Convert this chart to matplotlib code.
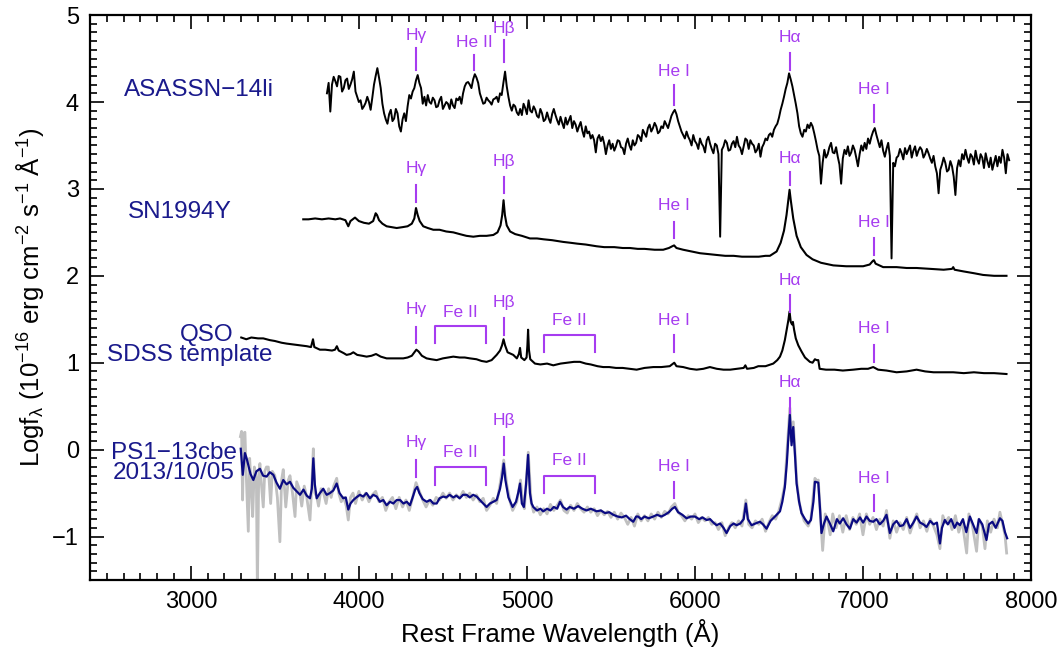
import numpy as np
import matplotlib
matplotlib.use('Agg')
import matplotlib.pyplot as plt
from matplotlib.ticker import MultipleLocator

plt.rcParams['font.family'] = ['Liberation Sans', 'DejaVu Sans']
plt.rcParams['mathtext.fontset'] = 'custom'
plt.rcParams['mathtext.rm'] = 'Liberation Sans'
plt.rcParams['mathtext.it'] = 'Liberation Sans:italic'
plt.rcParams['mathtext.bf'] = 'Liberation Sans:bold'
plt.rcParams['mathtext.default'] = 'regular'

# ASASSN-14li: log flux on a 10 A grid starting at 3810 A (one row = 200 A)
asassn_start = 3810
asassn_step = 10
asassn_flux = [
    4.10, 4.22, 3.89, 4.20, 4.29, 4.24, 4.18, 4.30, 4.29, 4.12, 4.16, 4.25, 4.27, 4.15, 4.20, 4.26, 4.35, 4.12, 4.06, 4.00,
    4.02, 3.92, 3.95, 3.99, 4.06, 4.00, 3.91, 4.05, 4.20, 4.30, 4.39, 4.28, 4.16, 3.98, 3.87, 3.80, 3.75, 3.86, 3.91, 3.78,
    3.81, 3.92, 3.87, 3.72, 3.66, 3.80, 3.87, 3.78, 3.95, 4.08, 4.04, 4.12, 4.16, 4.25, 4.31, 4.22, 4.16, 3.98, 4.06, 3.96,
    4.08, 4.00, 3.98, 4.05, 4.02, 3.94, 3.95, 4.02, 4.06, 3.92, 3.96, 4.00, 3.98, 3.92, 4.03, 3.96, 3.93, 4.04, 4.02, 4.06,
    3.98, 4.10, 4.18, 4.22, 4.23, 4.20, 4.16, 4.26, 4.32, 4.28, 4.22, 4.10, 4.04, 3.98, 3.99, 4.05, 4.02, 4.00, 3.97, 4.03,
    4.04, 4.06, 4.00, 4.10, 4.08, 4.22, 4.35, 4.18, 4.06, 3.96, 3.90, 3.97, 3.95, 3.88, 3.85, 3.92, 3.85, 3.98, 3.93, 3.86,
    4.02, 3.90, 3.88, 3.95, 3.91, 3.84, 3.82, 3.92, 3.87, 3.78, 3.80, 3.88, 3.81, 3.76, 3.86, 3.92, 3.85, 3.79, 3.74, 3.83,
    3.76, 3.70, 3.82, 3.74, 3.79, 3.84, 3.70, 3.78, 3.74, 3.66, 3.72, 3.77, 3.67, 3.60, 3.72, 3.64, 3.66, 3.58, 3.62, 3.56,
    3.42, 3.58, 3.62, 3.55, 3.60, 3.52, 3.40, 3.50, 3.56, 3.46, 3.52, 3.44, 3.49, 3.56, 3.55, 3.48, 3.47, 3.40, 3.52, 3.58,
    3.50, 3.45, 3.56, 3.50, 3.53, 3.62, 3.60, 3.55, 3.68, 3.64, 3.60, 3.70, 3.74, 3.66, 3.70, 3.76, 3.72, 3.64, 3.66, 3.72,
    3.70, 3.78, 3.74, 3.70, 3.77, 3.84, 3.88, 3.91, 3.86, 3.78, 3.72, 3.66, 3.62, 3.58, 3.66, 3.60, 3.56, 3.50, 3.62, 3.55,
    3.52, 3.46, 3.58, 3.52, 3.49, 3.42, 3.56, 3.60, 3.52, 3.46, 3.41, 3.52, 3.50, 3.40, 2.45, 3.45, 3.49, 3.56, 3.53, 3.44,
    3.45, 3.52, 3.55, 3.48, 3.60, 3.50, 3.47, 3.40, 3.49, 3.58, 3.56, 3.46, 3.56, 3.52, 3.50, 3.42, 3.45, 3.52, 3.37, 3.48,
    3.52, 3.58, 3.56, 3.62, 3.64, 3.60, 3.68, 3.72, 3.75, 3.82, 3.91, 3.98, 4.06, 4.15, 4.22, 4.33, 4.26, 4.18, 4.08, 3.98,
    3.87, 3.72, 3.64, 3.60, 3.68, 3.66, 3.74, 3.70, 3.76, 3.72, 3.64, 3.55, 3.45, 3.38, 3.06, 3.30, 3.45, 3.36, 3.40, 3.48,
    3.53, 3.42, 3.41, 3.48, 3.37, 3.28, 3.06, 3.35, 3.45, 3.40, 3.49, 3.38, 3.42, 3.50, 3.45, 3.36, 3.26, 3.40, 3.50, 3.44,
    3.53, 3.46, 3.58, 3.52, 3.60, 3.66, 3.70, 3.62, 3.55, 3.48, 3.56, 3.44, 3.37, 3.46, 3.53, 3.38, 2.20, 3.30, 3.26, 3.36,
    3.38, 3.46, 3.41, 3.34, 3.47, 3.40, 3.45, 3.50, 3.36, 3.44, 3.49, 3.38, 3.44, 3.48, 3.45, 3.36, 3.40, 3.46, 3.41, 3.35,
    3.30, 3.38, 3.26, 3.18, 2.95, 3.22, 3.28, 3.36, 3.30, 3.20, 3.22, 3.32, 3.26, 3.14, 2.93, 3.24, 3.33, 3.26, 3.40, 3.34,
    3.45, 3.36, 3.30, 3.40, 3.37, 3.28, 3.44, 3.34, 3.29, 3.40, 3.36, 3.24, 3.41, 3.32, 3.25, 3.36, 3.22, 3.30, 3.38, 3.26,
    3.37, 3.30, 3.45, 3.36, 3.18, 3.40, 3.33,
]

# SN1994Y
sn_wave = [3669, 3700, 3740, 3780, 3820, 3860, 3888, 3920, 3937, 3950,
           3970, 3977, 4000, 4030, 4060, 4085, 4100, 4108, 4120, 4140,
           4165, 4195, 4225, 4260, 4290, 4315, 4330, 4340, 4350, 4362,
           4383, 4410, 4443, 4480, 4520, 4562, 4600, 4640, 4681, 4720,
           4760, 4800, 4825, 4843, 4853, 4861, 4869, 4880, 4900, 4930,
           4970, 5018, 5060, 5100, 5150, 5216, 5260, 5300, 5350, 5415,
           5460, 5520, 5570, 5613, 5660, 5700, 5760, 5811, 5845, 5865,
           5876, 5890, 5930, 5980, 6030, 6080, 6129, 6180, 6230, 6280,
           6327, 6380, 6420, 6446, 6486, 6510, 6530, 6545, 6555, 6563,
           6571, 6585, 6605, 6630, 6664, 6700, 6750, 6823, 6900, 6960,
           7001, 7040, 7058, 7065, 7075, 7120, 7200, 7260, 7319, 7400,
           7480, 7530, 7537, 7545, 7600, 7660, 7715, 7780, 7854]
sn_flux = [2.65, 2.65, 2.66, 2.65, 2.66, 2.65, 2.66, 2.64, 2.57, 2.63,
           2.66, 2.67, 2.63, 2.61, 2.60, 2.63, 2.72, 2.70, 2.64, 2.60,
           2.57, 2.56, 2.55, 2.56, 2.57, 2.60, 2.66, 2.78, 2.70, 2.63,
           2.57, 2.55, 2.53, 2.53, 2.51, 2.50, 2.48, 2.46, 2.45, 2.46,
           2.46, 2.47, 2.50, 2.58, 2.70, 2.87, 2.70, 2.58, 2.51, 2.48,
           2.46, 2.43, 2.43, 2.42, 2.41, 2.39, 2.38, 2.37, 2.36, 2.34,
           2.33, 2.33, 2.32, 2.32, 2.31, 2.31, 2.30, 2.30, 2.32, 2.34,
           2.35, 2.32, 2.30, 2.28, 2.26, 2.25, 2.24, 2.23, 2.23, 2.22,
           2.22, 2.22, 2.23, 2.23, 2.28, 2.38, 2.52, 2.70, 2.86, 2.99,
           2.86, 2.66, 2.46, 2.33, 2.24, 2.19, 2.15, 2.12, 2.11, 2.11,
           2.11, 2.13, 2.17, 2.18, 2.14, 2.10, 2.10, 2.09, 2.09, 2.08,
           2.07, 2.08, 2.10, 2.07, 2.05, 2.03, 2.01, 2.00, 2.00]

# QSO SDSS composite
qso_wave = [3300, 3330, 3360, 3400, 3431, 3470, 3500, 3540, 3570, 3610,
            3650, 3690, 3715, 3727, 3735, 3768, 3800, 3840, 3858, 3869,
            3880, 3910, 3927, 3950, 3967, 3990, 4020, 4046, 4075, 4102,
            4130, 4165, 4200, 4230, 4264, 4290, 4315, 4330, 4342, 4355,
            4375, 4403, 4430, 4463, 4500, 4530, 4562, 4600, 4630, 4661,
            4700, 4730, 4760, 4790, 4820, 4840, 4852, 4861, 4870, 4885,
            4919, 4940, 4952, 4959, 4966, 4985, 4998, 5003, 5007, 5012,
            5020, 5048, 5080, 5120, 5157, 5200, 5240, 5280, 5316, 5350,
            5380, 5420, 5454, 5490, 5530, 5570, 5610, 5653, 5700, 5752,
            5800, 5850, 5877, 5890, 5930, 5970, 6010, 6050, 6089, 6130,
            6170, 6210, 6250, 6290, 6300, 6310, 6350, 6377, 6420, 6466,
            6490, 6506, 6520, 6535, 6548, 6556, 6563, 6570, 6578, 6583,
            6590, 6600, 6615, 6634, 6655, 6684, 6700, 6714, 6724, 6734,
            6742, 6780, 6830, 6880, 6942, 6990, 7030, 7061, 7090, 7140,
            7200, 7260, 7319, 7370, 7420, 7480, 7537, 7600, 7660, 7720,
            7780, 7854]
qso_flux = [1.29, 1.27, 1.29, 1.28, 1.28, 1.26, 1.25, 1.23, 1.22, 1.21,
            1.20, 1.19, 1.18, 1.27, 1.18, 1.15, 1.15, 1.14, 1.15, 1.19,
            1.14, 1.11, 1.09, 1.10, 1.12, 1.09, 1.08, 1.07, 1.08, 1.10,
            1.07, 1.05, 1.05, 1.05, 1.05, 1.06, 1.08, 1.12, 1.15, 1.13,
            1.08, 1.05, 1.04, 1.03, 1.05, 1.06, 1.07, 1.06, 1.06, 1.05,
            1.04, 1.02, 1.01, 1.03, 1.09, 1.14, 1.20, 1.27, 1.20, 1.12,
            1.09, 1.05, 1.10, 1.17, 1.06, 1.03, 1.06, 1.20, 1.38, 1.15,
            1.04, 0.99, 0.98, 0.99, 0.97, 0.99, 1.00, 1.01, 1.01, 0.99,
            0.98, 0.96, 0.95, 0.95, 0.94, 0.94, 0.93, 0.92, 0.94, 0.95,
            0.95, 0.96, 1.00, 0.96, 0.95, 0.93, 0.92, 0.93, 0.95, 0.93,
            0.92, 0.92, 0.93, 0.94, 0.97, 0.93, 0.94, 0.96, 0.96, 0.99,
            1.03, 1.07, 1.14, 1.26, 1.40, 1.49, 1.59, 1.47, 1.44, 1.47,
            1.38, 1.28, 1.20, 1.13, 1.06, 1.01, 1.00, 1.04, 1.03, 1.03,
            0.93, 0.92, 0.92, 0.91, 0.92, 0.93, 0.93, 0.95, 0.92, 0.91,
            0.89, 0.90, 0.92, 0.90, 0.89, 0.89, 0.89, 0.88, 0.89, 0.88,
            0.88, 0.87]

# PS1-13cbe, unbinned spectrum (grey)
ps1_raw_wave = [3295, 3302, 3308, 3315, 3322, 3330, 3342, 3350, 3360, 3368,
                3378, 3390, 3396, 3404, 3411, 3420, 3431, 3440, 3450, 3461,
                3475, 3485, 3500, 3515, 3530, 3540, 3550, 3565, 3580, 3590,
                3605, 3620, 3630, 3645, 3660, 3675, 3690, 3709, 3720, 3729,
                3738, 3749, 3760, 3775, 3790, 3805, 3820, 3835, 3850, 3868,
                3880, 3895, 3910, 3925, 3937, 3950, 3965, 3980, 4000, 4020,
                4040, 4060, 4080, 4100, 4120, 4140, 4160, 4180, 4200, 4220,
                4240, 4260, 4280, 4300, 4320, 4340, 4360, 4380, 4400, 4420,
                4440, 4460, 4480, 4500, 4520, 4540, 4560, 4580, 4600, 4620,
                4640, 4660, 4680, 4700, 4720, 4740, 4760, 4780, 4800, 4820,
                4840, 4862, 4880, 4900, 4915, 4940, 4962, 4975, 4985, 5008,
                5025, 5040, 5060, 5080, 5100, 5120, 5140, 5160, 5180, 5200,
                5220, 5240, 5260, 5280, 5300, 5320, 5340, 5360, 5380, 5400,
                5420, 5440, 5460, 5480, 5500, 5520, 5540, 5560, 5580, 5600,
                5620, 5640, 5660, 5680, 5700, 5720, 5740, 5760, 5780, 5800,
                5820, 5840, 5860, 5880, 5900, 5920, 5940, 5960, 5980, 6000,
                6020, 6040, 6060, 6080, 6100, 6120, 6140, 6160, 6180, 6200,
                6220, 6240, 6260, 6280, 6303, 6320, 6340, 6360, 6380, 6400,
                6420, 6440, 6460, 6480, 6500, 6520, 6535, 6550, 6565, 6572,
                6585, 6595, 6605, 6620, 6634, 6650, 6674, 6690, 6705, 6714,
                6725, 6734, 6745, 6760, 6775, 6790, 6805, 6820, 6840, 6860,
                6880, 6900, 6920, 6940, 6960, 6980, 7000, 7020, 7040, 7060,
                7080, 7100, 7120, 7140, 7160, 7180, 7200, 7220, 7240, 7260,
                7280, 7300, 7320, 7340, 7360, 7380, 7400, 7420, 7440, 7458,
                7475, 7490, 7510, 7530, 7550, 7570, 7590, 7617, 7630, 7650,
                7676, 7690, 7710, 7726, 7740, 7760, 7780, 7800, 7815, 7830,
                7845, 7855]
ps1_raw_flux = [0.15, 0.21, -0.58, 0.19, 0.20, -0.30, -0.94, -0.10, -0.45, -0.77,
                -0.20, -0.35, -1.60, -0.30, -0.16, -0.40, -0.66, -0.25, -0.20, -0.20,
                -0.62, -0.25, -0.30, -0.55, -1.06, -0.35, -0.23, -0.66, -0.35, -0.30,
                -0.50, -0.77, -0.37, -0.45, -0.65, -0.42, -0.55, -0.81, -0.40, 0.01,
                -0.50, -0.54, -0.65, -0.45, -0.50, -0.62, -0.45, -0.55, -0.42, -0.33,
                -0.50, -0.60, -0.55, -0.65, -0.81, -0.55, -0.50, -0.62, -0.48, -0.58,
                -0.50, -0.60, -0.52, -0.48, -0.60, -0.55, -0.70, -0.60, -0.55, -0.68,
                -0.55, -0.66, -0.58, -0.70, -0.55, -0.38, -0.48, -0.58, -0.66, -0.58,
                -0.64, -0.55, -0.58, -0.50, -0.56, -0.50, -0.58, -0.52, -0.56, -0.48,
                -0.55, -0.50, -0.58, -0.52, -0.60, -0.56, -0.70, -0.64, -0.56, -0.62,
                -0.40, -0.12, -0.40, -0.60, -0.70, -0.60, -0.35, -0.62, -0.68, -0.03,
                -0.60, -0.72, -0.66, -0.75, -0.68, -0.74, -0.63, -0.70, -0.64, -0.58,
                -0.70, -0.73, -0.64, -0.70, -0.62, -0.68, -0.72, -0.66, -0.72, -0.68,
                -0.76, -0.70, -0.75, -0.71, -0.78, -0.72, -0.80, -0.73, -0.78, -0.86,
                -0.78, -0.88, -0.74, -0.82, -0.76, -0.82, -0.74, -0.80, -0.72, -0.78,
                -0.71, -0.74, -0.66, -0.62, -0.72, -0.76, -0.82, -0.76, -0.80, -0.74,
                -0.84, -0.78, -0.82, -0.78, -0.86, -0.84, -0.92, -0.84, -0.99, -0.90,
                -0.84, -0.90, -0.82, -0.88, -0.58, -0.86, -0.90, -0.82, -0.86, -0.80,
                -0.94, -0.84, -0.76, -0.80, -0.70, -0.55, -0.40, 0.05, 0.48, 0.10,
                0.32, 0.00, -0.35, -0.60, -0.72, -0.82, -0.88, -0.80, -0.50, -0.33,
                -0.36, -0.35, -0.70, -1.16, -0.74, -0.82, -0.98, -0.74, -0.90, -0.76,
                -0.95, -0.76, -0.92, -0.78, -0.86, -0.74, -0.98, -0.74, -0.86, -0.78,
                -0.92, -0.80, -0.88, -0.70, -1.02, -0.82, -0.95, -0.84, -0.92, -0.78,
                -0.96, -0.84, -0.74, -0.90, -0.82, -0.94, -0.80, -0.88, -0.98, -1.14,
                -0.76, -0.84, -0.78, -0.92, -0.76, -0.95, -0.82, -1.19, -0.74, -0.86,
                -1.17, -0.80, -0.88, -1.14, -0.82, -0.95, -0.80, -0.90, -0.72, -0.85,
                -0.98, -1.19]

# PS1-13cbe, smoothed spectrum (navy)
ps1_wave = [3297, 3309, 3322, 3332, 3342, 3355, 3372, 3390, 3411, 3430,
            3451, 3470, 3491, 3510, 3530, 3550, 3570, 3590, 3610, 3630,
            3650, 3670, 3690, 3709, 3720, 3729, 3738, 3749, 3768, 3788,
            3808, 3828, 3848, 3868, 3885, 3907, 3922, 3937, 3950, 3967,
            3985, 4006, 4026, 4045, 4066, 4086, 4106, 4125, 4145, 4165,
            4185, 4205, 4225, 4245, 4265, 4285, 4304, 4320, 4335, 4347,
            4360, 4380, 4403, 4425, 4443, 4463, 4480, 4502, 4520, 4540,
            4562, 4580, 4600, 4620, 4641, 4660, 4680, 4701, 4720, 4740,
            4760, 4780, 4800, 4820, 4840, 4852, 4862, 4872, 4890, 4915,
            4935, 4948, 4959, 4970, 4982, 4995, 5007, 5018, 5028, 5038,
            5060, 5080, 5097, 5120, 5140, 5160, 5180, 5197, 5215, 5236,
            5255, 5280, 5305, 5330, 5355, 5380, 5415, 5440, 5465, 5490,
            5514, 5540, 5565, 5590, 5612, 5633, 5650, 5662, 5680, 5700,
            5725, 5752, 5775, 5800, 5821, 5845, 5865, 5881, 5900, 5925,
            5950, 5975, 6000, 6025, 6045, 6069, 6090, 6110, 6129, 6150,
            6170, 6188, 6210, 6230, 6248, 6270, 6290, 6303, 6315, 6337,
            6360, 6387, 6405, 6426, 6450, 6476, 6506, 6520, 6535, 6547,
            6555, 6565, 6575, 6585, 6595, 6605, 6620, 6634, 6655, 6674,
            6690, 6705, 6714, 6734, 6745, 6753, 6768, 6783, 6803, 6823,
            6845, 6862, 6882, 6902, 6922, 6942, 6962, 6982, 7001, 7021,
            7040, 7061, 7080, 7100, 7120, 7140, 7160, 7180, 7200, 7220,
            7239, 7260, 7280, 7300, 7319, 7340, 7360, 7378, 7400, 7420,
            7440, 7458, 7470, 7487, 7505, 7525, 7545, 7560, 7577, 7595,
            7615, 7636, 7655, 7676, 7690, 7710, 7735, 7750, 7770, 7790,
            7815, 7830, 7845, 7858]
ps1_flux = [0.01, -0.29, -0.04, -0.10, -0.18, -0.28, -0.35, -0.25, -0.22, -0.30,
            -0.31, -0.26, -0.29, -0.38, -0.45, -0.35, -0.40, -0.37, -0.44, -0.48,
            -0.52, -0.46, -0.53, -0.56, -0.45, -0.10, -0.40, -0.56, -0.50, -0.45,
            -0.52, -0.50, -0.47, -0.39, -0.50, -0.56, -0.55, -0.69, -0.62, -0.58,
            -0.55, -0.52, -0.54, -0.50, -0.56, -0.52, -0.54, -0.60, -0.58, -0.64,
            -0.60, -0.62, -0.58, -0.58, -0.62, -0.60, -0.64, -0.55, -0.46, -0.43,
            -0.50, -0.57, -0.60, -0.58, -0.62, -0.62, -0.56, -0.54, -0.55, -0.52,
            -0.55, -0.53, -0.56, -0.52, -0.52, -0.55, -0.52, -0.54, -0.58, -0.62,
            -0.66, -0.62, -0.60, -0.58, -0.45, -0.32, -0.16, -0.35, -0.55, -0.66,
            -0.60, -0.50, -0.39, -0.62, -0.66, -0.40, -0.06, -0.50, -0.62, -0.66,
            -0.70, -0.68, -0.71, -0.68, -0.70, -0.66, -0.68, -0.60, -0.66, -0.69,
            -0.66, -0.68, -0.65, -0.68, -0.70, -0.68, -0.71, -0.70, -0.73, -0.72,
            -0.75, -0.77, -0.78, -0.76, -0.80, -0.83, -0.77, -0.77, -0.80, -0.77,
            -0.79, -0.77, -0.75, -0.77, -0.75, -0.72, -0.68, -0.66, -0.72, -0.75,
            -0.79, -0.77, -0.77, -0.80, -0.78, -0.81, -0.80, -0.84, -0.87, -0.85,
            -0.90, -0.96, -0.88, -0.85, -0.87, -0.85, -0.80, -0.62, -0.80, -0.87,
            -0.85, -0.83, -0.86, -0.91, -0.82, -0.77, -0.71, -0.60, -0.43, -0.15,
            0.11, 0.40, 0.05, 0.26, -0.05, -0.39, -0.60, -0.73, -0.80, -0.85,
            -0.81, -0.60, -0.37, -0.38, -0.70, -0.96, -0.85, -0.77, -0.85, -0.94,
            -0.80, -0.85, -0.79, -0.86, -0.91, -0.80, -0.84, -0.78, -0.84, -0.77,
            -0.82, -0.83, -0.80, -0.86, -0.82, -0.75, -0.96, -0.86, -0.82, -0.88,
            -0.87, -0.80, -0.90, -0.84, -0.77, -0.84, -0.86, -0.89, -0.82, -0.86,
            -0.84, -1.08, -0.90, -0.81, -0.86, -0.80, -0.90, -0.84, -0.87, -0.80,
            -0.95, -0.77, -0.86, -0.96, -0.80, -0.86, -1.04, -0.86, -0.83, -0.90,
            -0.79, -0.82, -0.95, -1.02]

# object names
names = ['ASASSN\u221214li', 'SN1994Y', 'QSO', 'SDSS template',
         'PS1\u221213cbe', '2013/10/05']
name_x = [3051, 2932, 3096, 2995, 2900, 2900]
name_y = [4.14, 2.73, 1.32, 1.09, -0.04, -0.27]

# line identifications: label, rest wavelength, text height, tick bottom, tick top
line_labels = ['H\u03b3', 'He II', 'H\u03b2', 'He I', 'H\u03b1', 'He I',
               'H\u03b3', 'H\u03b2', 'He I', 'H\u03b1', 'He I',
               'H\u03b3', 'H\u03b2', 'He I', 'H\u03b1', 'He I',
               'H\u03b3', 'H\u03b2', 'He I', 'H\u03b1', 'He I']
line_wave = [4340, 4686, 4861, 5876, 6563, 7065,
             4340, 4861, 5876, 6563, 7065,
             4340, 4861, 5876, 6563, 7065,
             4340, 4861, 5876, 6563, 7065]
line_text_y = [4.76, 4.69, 4.85, 4.35, 4.74, 4.14,
               3.24, 3.31, 2.81, 3.35, 2.61,
               1.61, 1.69, 1.49, 1.95, 1.39,
               0.08, 0.33, -0.19, 0.77, -0.33]
line_tick_lo = [4.37, 4.37, 4.46, 3.97, 4.37, 3.77,
                2.85, 2.95, 2.44, 3.04, 2.24,
                1.23, 1.32, 1.12, 1.58, 1.01,
                -0.32, -0.06, -0.56, 0.42, -0.71]
line_tick_hi = [4.62, 4.54, 4.71, 4.19, 4.56, 3.97,
                3.04, 3.14, 2.62, 3.19, 2.43,
                1.41, 1.51, 1.32, 1.78, 1.20,
                -0.12, 0.15, -0.37, 0.59, -0.52]

# Fe II blends: wavelength range, text height, bracket top, leg bottom
feii_lo = [4453, 5101, 4453, 5101]
feii_hi = [4754, 5405, 4754, 5405]
feii_text_y = [1.58, 1.49, -0.03, -0.13]
feii_top = [1.42, 1.32, -0.20, -0.30]
feii_bottom = [1.23, 1.12, -0.41, -0.50]

purple = '#a63cf0'
navy_text = '#1a1a8c'

fig = plt.figure(figsize=(10.64, 6.51), dpi=100)
ax = fig.add_axes([0.0846, 0.1091, 0.8844, 0.8677])

asassn_wave = asassn_start + asassn_step * np.arange(len(asassn_flux))
ax.plot(asassn_wave, asassn_flux, color='black', lw=1.4)
ax.plot(sn_wave, sn_flux, color='black', lw=1.5)
ax.plot(qso_wave, qso_flux, color='black', lw=1.5)
ax.plot(ps1_raw_wave, ps1_raw_flux, color='#c0c0c0', lw=2.0)
ax.plot(ps1_wave, ps1_flux, color='#0a0a82', lw=1.6)

for txt, x, y in zip(names, name_x, name_y):
    ax.text(x, y, txt, color=navy_text, fontsize=17.5, ha='center', va='center')

for lab, w, ty, lo, hi in zip(line_labels, line_wave, line_text_y,
                              line_tick_lo, line_tick_hi):
    ax.text(w, ty, lab, color=purple, fontsize=12.5, ha='center', va='center')
    ax.plot([w, w], [lo, hi], color=purple, lw=1.5)

for lo, hi, ty, top, bot in zip(feii_lo, feii_hi, feii_text_y, feii_top, feii_bottom):
    ax.plot([lo, lo, hi, hi], [bot, top, top, bot], color=purple, lw=1.5)
    ax.text((lo + hi) / 2, ty, 'Fe II', color=purple, fontsize=12.5,
            ha='center', va='center')

ax.set_xlim(2400, 8000)
ax.set_ylim(-1.5, 5)
ax.xaxis.set_major_locator(MultipleLocator(1000))
ax.xaxis.set_minor_locator(MultipleLocator(100))
ax.yaxis.set_major_locator(MultipleLocator(1))
ax.yaxis.set_minor_locator(MultipleLocator(0.1))
ax.tick_params(which='both', direction='in', top=True, right=True,
               labelsize=17, width=1.2)
ax.tick_params(which='major', length=10, pad=8)
ax.tick_params(which='minor', length=5)
for s in ax.spines.values():
    s.set_linewidth(1.6)

ax.set_yticks([-1, 0, 1, 2, 3, 4, 5])
ax.set_yticklabels(['\u22121', '0', '1', '2', '3', '4', '5'])
ax.set_xlabel('Rest Frame Wavelength (\u00c5)', fontsize=18.5)
ax.set_ylabel(r'Logf$_{\lambda}$ (10$^{-16}$ erg cm$^{-2}$ s$^{-1}$ $\AA^{-1}$)',
              fontsize=18.5, labelpad=4)

fig.savefig('out.png', dpi=100)
